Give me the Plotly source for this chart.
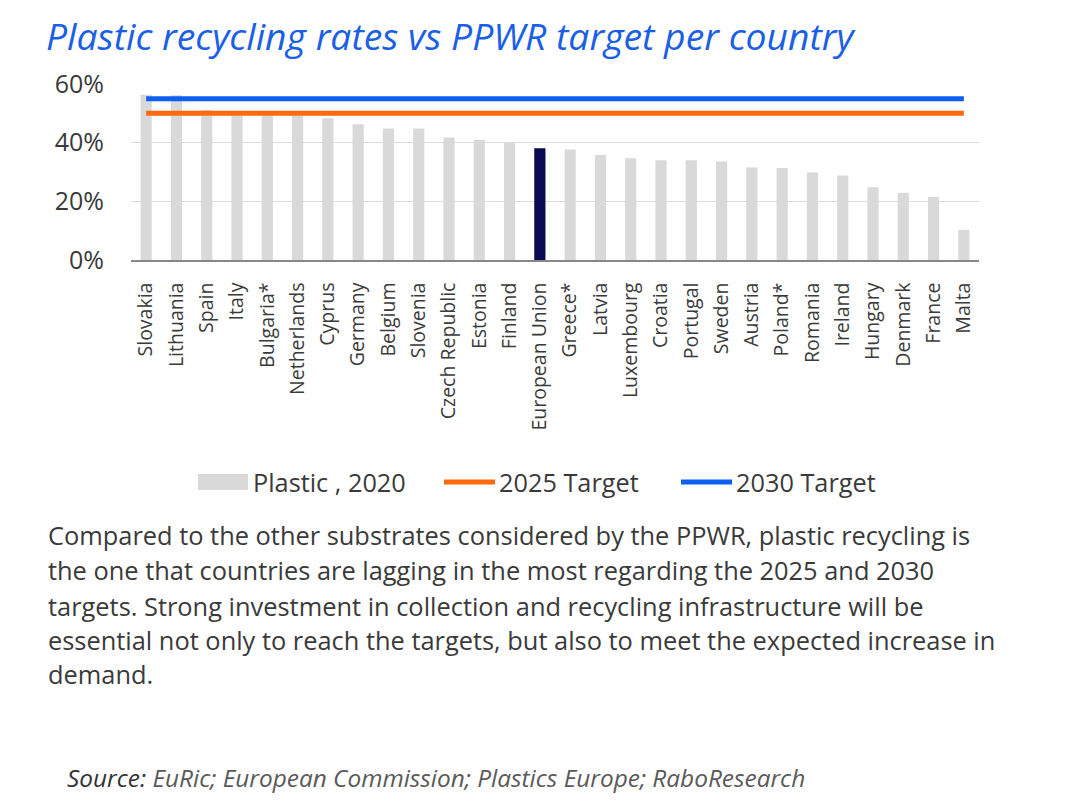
import plotly.graph_objects as go

countries = ["Slovakia", "Lithuania", "Spain", "Italy", "Bulgaria*", "Netherlands", "Cyprus",
             "Germany", "Belgium", "Slovenia", "Czech Republic", "Estonia", "Finland",
             "European Union", "Greece*", "Latvia", "Luxembourg", "Croatia", "Portugal",
             "Sweden", "Austria", "Poland*", "Romania", "Ireland", "Hungary", "Denmark",
             "France", "Malta"]
plastic_2020 = [56.3, 56.2, 51.1, 50.0, 50.0, 50.0, 48.3, 46.3, 44.8, 44.8, 41.8, 41.0, 40.0,
                38.1, 37.7, 35.8, 34.7, 34.0, 34.0, 33.6, 31.5, 31.4, 29.8, 28.8, 24.8, 22.9,
                21.5, 10.3]
target_2025 = 50
target_2030 = 55
y_ticks = [0, 20, 40, 60]
y_tick_labels = ["0%", "20%", "40%", "60%"]

W, H = 1080, 810
OFF = 8  # page body offset
L, R, T, B = 131, 979, 84, 260
FONT = "Open Sans"
TXT = "#3a3a3a"
GRAY = "#d9d9d9"
ORANGE = "#ff6a0f"
BLUE = "#0d5ef2"

def px_x(x):
    return (x - L) / (R - L)

def px_y(y):
    return (B - y) / (B - T)

bar_colors = ["#0a0a52" if c == "European Union" else GRAY for c in countries]

fig = go.Figure()
fig.add_trace(go.Bar(x=countries, y=plastic_2020, name="Plastic , 2020",
                     marker=dict(color=bar_colors, line=dict(width=0)),
                     width=0.37, showlegend=False))
fig.add_trace(go.Scatter(x=countries, y=[target_2025] * len(countries), name="2025 Target",
                         mode="lines", line=dict(color=ORANGE, width=5), showlegend=False))
fig.add_trace(go.Scatter(x=countries, y=[target_2030] * len(countries), name="2030 Target",
                         mode="lines", line=dict(color=BLUE, width=5), showlegend=False))

para = ["Compared to the other substrates considered by the PPWR, plastic recycling is",
        "the one that countries are lagging in the most regarding the 2025 and 2030",
        "targets. Strong investment in collection and recycling infrastructure will be",
        "essential not only to reach the targets, but also to meet the expected increase in",
        "demand."]
para_y = [535, 570, 606, 640, 674]

annotations = []
for line, yy in zip(para, para_y):
    annotations.append(dict(text=line, xref="paper", yref="paper", x=px_x(46), y=px_y(yy),
                            xanchor="left", yanchor="middle", showarrow=False,
                            font=dict(family=FONT, size=25.4, color=TXT)))
annotations.append(dict(text="<i>Source:</i> <i style='color:#5a5a5a'>EuRic; European Commission; Plastics Europe; RaboResearch</i>",
                        xref="paper", yref="paper", x=px_x(65), y=px_y(777),
                        xanchor="left", yanchor="middle", showarrow=False,
                        font=dict(family=FONT, size=24.4, color="#333333")))

# custom legend
LEG_Y = 482
legend_items = [("Plastic , 2020", "rect", GRAY, 198, 248, 251),
                ("2025 Target", "line", ORANGE, 444, 495, 497),
                ("2030 Target", "line", BLUE, 681, 732, 734)]
shapes = []
for label, kind, color, x0, x1, xt in legend_items:
    if kind == "rect":
        shapes.append(dict(type="rect", xref="paper", yref="paper",
                           x0=px_x(x0), x1=px_x(x1), y0=px_y(LEG_Y - 8), y1=px_y(LEG_Y + 8),
                           fillcolor=color, line=dict(width=0)))
    else:
        shapes.append(dict(type="line", xref="paper", yref="paper",
                           x0=px_x(x0), x1=px_x(x1), y0=px_y(LEG_Y), y1=px_y(LEG_Y),
                           line=dict(color=color, width=5)))
    annotations.append(dict(text=label, xref="paper", yref="paper", x=px_x(xt), y=px_y(LEG_Y),
                            xanchor="left", yanchor="middle", showarrow=False,
                            font=dict(family=FONT, size=25.3, color=TXT)))

fig.update_layout(
    width=W, height=H,
    margin=dict(l=L - OFF, r=W - R + OFF, t=T - OFF, b=H - B + OFF, pad=0),
    paper_bgcolor="white", plot_bgcolor="white",
    title=dict(text="<i>Plastic recycling rates vs PPWR target per country</i>",
               xref="container", yref="container", x=(47 - OFF - 1) / W, y=1 - (37 - OFF) / H,
               xanchor="left", yanchor="middle",
               font=dict(family=FONT, size=37.3, color="#1a5fe6")),
    bargap=0.6,
    showlegend=False,
    xaxis=dict(tickangle=-90, tickfont=dict(family=FONT, size=19.5, color=TXT),
               showline=True, linecolor="#888888", linewidth=1.5, ticks="",
               showgrid=False, ticklabelstandoff=13),
    yaxis=dict(range=[0, 60], tickvals=y_ticks, ticktext=y_tick_labels,
               tickfont=dict(family=FONT, size=25, color=TXT),
               showgrid=True, gridcolor="#dcdcdc", gridwidth=1.3, zeroline=False,
               showline=False, ticks="", ticklabelstandoff=26),
    annotations=annotations,
    shapes=shapes,
    font=dict(family=FONT),
)

fig.write_html("out.html")
